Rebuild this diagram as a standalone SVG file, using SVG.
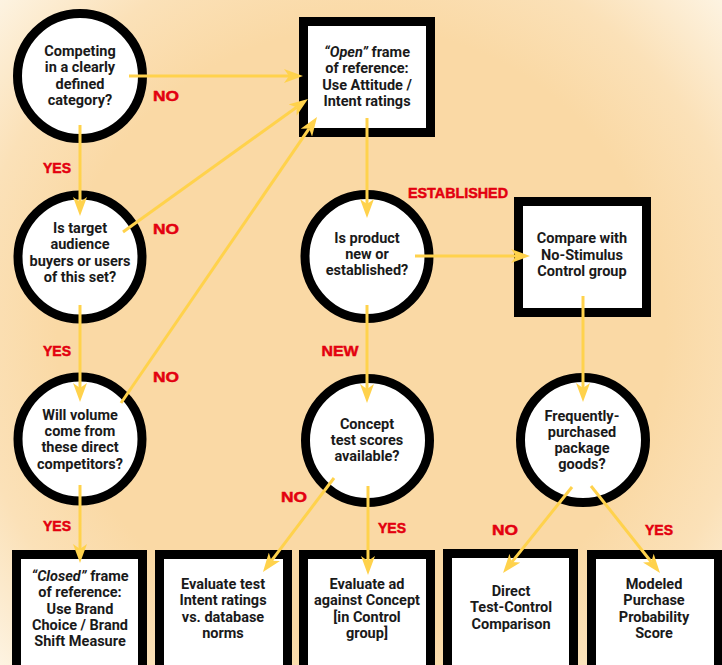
<svg xmlns="http://www.w3.org/2000/svg" width="722" height="665" viewBox="0 0 722 665">
<defs>
<radialGradient id="bg" cx="361" cy="332" r="490" gradientUnits="userSpaceOnUse">
<stop offset="0" stop-color="#FAD9A5"/>
<stop offset="0.62" stop-color="#FAD9A5"/>
<stop offset="0.8" stop-color="#FBE1B8"/>
<stop offset="1" stop-color="#FDF3E1"/>
</radialGradient>
<marker id="ah" markerUnits="userSpaceOnUse" markerWidth="19" markerHeight="14" viewBox="0 0 19 14" refX="5" refY="7" orient="auto">
<path d="M0,0 L19,7 L0,14 L5,7 Z" fill="#FFD24C"/>
</marker>
<style>
.c{fill:#fff;stroke:#000;stroke-width:9}
.b{fill:#fff;stroke:#000;stroke-width:9}
.t{font-family:Roboto,"Liberation Sans",sans-serif;font-weight:700;font-size:14.5px;fill:#1a1a1a;text-anchor:middle}
.l{font-family:"Liberation Sans",Arial,sans-serif;font-weight:700;font-size:15.5px;fill:#E3000F;stroke:#E3000F;stroke-width:0.5;text-anchor:middle}
.k{stroke:#FFD24C;stroke-width:3;fill:none;marker-end:url(#ah)}
</style>
</defs>
<rect x="0" y="0" width="722" height="665" fill="url(#bg)"/>

<g id="q1"><circle class="c" cx="80" cy="76" r="62.5"/>
<text class="t"><tspan x="80" y="56">Competing</tspan><tspan x="80" y="72.3">in a clearly</tspan><tspan x="80" y="88.6">defined</tspan><tspan x="80" y="104.9">category?</tspan></text></g>

<g id="q2"><circle class="c" cx="80" cy="257" r="62"/>
<text class="t"><tspan x="80" y="233">Is target</tspan><tspan x="80" y="249.3">audience</tspan><tspan x="80" y="265.6">buyers or users</tspan><tspan x="80" y="281.9">of this set?</tspan></text></g>

<g id="q3"><circle class="c" cx="80" cy="439" r="62"/>
<text class="t"><tspan x="80" y="420">Will volume</tspan><tspan x="80" y="436.2">come from</tspan><tspan x="80" y="452.4">these direct</tspan><tspan x="80" y="468.6">competitors?</tspan></text></g>

<g id="open"><rect class="b" x="303.5" y="21.5" width="127" height="111"/>
<text class="t"><tspan x="367" y="57"><tspan font-style="italic">“Open”</tspan> frame</tspan><tspan x="367" y="73.3">of reference:</tspan><tspan x="367" y="89.6">Use Attitude /</tspan><tspan x="367" y="105.9">Intent ratings</tspan></text></g>

<g id="q4"><circle class="c" cx="367" cy="256.5" r="62"/>
<text class="t"><tspan x="367" y="243">Is product</tspan><tspan x="367" y="259">new or</tspan><tspan x="367" y="275">established?</tspan></text></g>

<g id="compare"><rect class="b" x="518.5" y="201.5" width="128" height="111"/>
<text class="t"><tspan x="582" y="243">Compare with</tspan><tspan x="582" y="259.5">No-Stimulus</tspan><tspan x="582" y="276">Control group</tspan></text></g>

<g id="q5"><circle class="c" cx="367.5" cy="440.5" r="62"/>
<text class="t"><tspan x="367" y="429">Concept</tspan><tspan x="367" y="445">test scores</tspan><tspan x="367" y="461">available?</tspan></text></g>

<g id="q6"><circle class="c" cx="583" cy="440" r="62.5"/>
<text class="t"><tspan x="582" y="420.5">Frequently-</tspan><tspan x="582" y="436.5">purchased</tspan><tspan x="582" y="452.5">package</tspan><tspan x="582" y="468.5">goods?</tspan></text></g>

<g id="closed"><rect class="b" x="16.5" y="554.5" width="126" height="130"/>
<text class="t"><tspan x="80" y="581"><tspan font-style="italic">“Closed”</tspan> frame</tspan><tspan x="80" y="597.3">of reference:</tspan><tspan x="80" y="613.6">Use Brand</tspan><tspan x="80" y="629.9">Choice / Brand</tspan><tspan x="80" y="646.2">Shift Measure</tspan></text></g>

<g id="evaltest"><rect class="b" x="159.5" y="554.5" width="128" height="130"/>
<text class="t"><tspan x="223" y="589">Evaluate test</tspan><tspan x="223" y="605.3">Intent ratings</tspan><tspan x="223" y="621.6">vs. database</tspan><tspan x="223" y="637.9">norms</tspan></text></g>

<g id="evalad"><rect class="b" x="303.5" y="554.5" width="127" height="130"/>
<text class="t"><tspan x="367" y="589">Evaluate ad</tspan><tspan x="367" y="605.3">against Concept</tspan><tspan x="367" y="621.6">[in Control</tspan><tspan x="367" y="637.9">group]</tspan></text></g>

<g id="direct"><rect class="b" x="447.5" y="553.5" width="126" height="130"/>
<text class="t"><tspan x="511" y="596">Direct</tspan><tspan x="511" y="612.3">Test-Control</tspan><tspan x="511" y="628.6">Comparison</tspan></text></g>

<g id="modeled"><rect class="b" x="591.5" y="554.5" width="127" height="130"/>
<text class="t"><tspan x="654" y="589">Modeled</tspan><tspan x="654" y="605.3">Purchase</tspan><tspan x="654" y="621.6">Probability</tspan><tspan x="654" y="637.9">Score</tspan></text></g>

<g id="connectors">
<line class="k" x1="129" y1="76" x2="289" y2="76"/>
<line class="k" x1="123" y1="232" x2="296.6" y2="107.2"/>
<line class="k" x1="121" y1="403" x2="309.1" y2="128.6"/>
<line class="k" x1="80" y1="125" x2="80" y2="202"/>
<line class="k" x1="80" y1="305" x2="80" y2="388"/>
<line class="k" x1="80" y1="485" x2="80" y2="549"/>
<line class="k" x1="367" y1="118" x2="367" y2="204"/>
<line class="k" x1="415" y1="256" x2="516" y2="256"/>
<line class="k" x1="367" y1="305" x2="367" y2="389"/>
<line class="k" x1="583" y1="296" x2="583" y2="388"/>
<line class="k" x1="334" y1="478" x2="271.4" y2="560.8"/>
<line class="k" x1="368" y1="486" x2="368" y2="561"/>
<line class="k" x1="572" y1="487" x2="511.8" y2="562.1"/>
<line class="k" x1="591" y1="486" x2="651.3" y2="562"/>
</g>

<g id="labels">
<text class="l" x="166" y="101" textLength="26" lengthAdjust="spacingAndGlyphs">NO</text>
<text class="l" x="57" y="173" textLength="28" lengthAdjust="spacingAndGlyphs">YES</text>
<text class="l" x="166" y="234" textLength="26" lengthAdjust="spacingAndGlyphs">NO</text>
<text class="l" x="57" y="356" textLength="28" lengthAdjust="spacingAndGlyphs">YES</text>
<text class="l" x="166" y="382" textLength="26" lengthAdjust="spacingAndGlyphs">NO</text>
<text class="l" x="57" y="531" textLength="28" lengthAdjust="spacingAndGlyphs">YES</text>
<text class="l" x="458" y="198" textLength="100" lengthAdjust="spacingAndGlyphs">ESTABLISHED</text>
<text class="l" x="340" y="356" textLength="37" lengthAdjust="spacingAndGlyphs">NEW</text>
<text class="l" x="294" y="502" textLength="26" lengthAdjust="spacingAndGlyphs">NO</text>
<text class="l" x="392" y="533" textLength="28" lengthAdjust="spacingAndGlyphs">YES</text>
<text class="l" x="505" y="535" textLength="26" lengthAdjust="spacingAndGlyphs">NO</text>
<text class="l" x="659" y="535" textLength="28" lengthAdjust="spacingAndGlyphs">YES</text>
</g>
</svg>
